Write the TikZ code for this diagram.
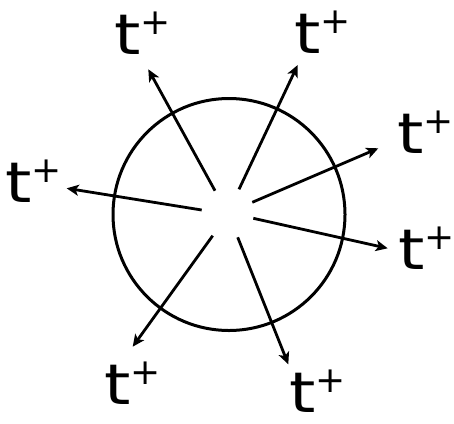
\documentclass[tikz,border=0pt]{standalone}
\usepackage{fontspec}
\setmainfont{DejaVu Sans}
\newfontfamily\widefont[FakeStretch=1.2]{DejaVu Sans}
\usetikzlibrary{arrows.meta}
\newcommand{\tplus}{{\widefont\fontsize{56}{56}\selectfont t}\raisebox{20pt}{\fontsize{36}{36}\selectfont +}}
\begin{document}
\begin{tikzpicture}[x=1pt,y=-1pt,
  arr/.style={line width=2.8pt,-{Stealth[length=12pt,width=11pt,inset=3pt]}},
  lbl/.style={inner sep=0pt,anchor=base west}]
\useasboundingbox (0,0) rectangle (454,423);
\node[draw,circle,line width=3pt,minimum size=232pt,inner sep=0pt] (ring) at (229,214.5) {};
\coordinate (s1) at (215,190.7);   \coordinate (e1) at (148.3,69.3);
\coordinate (s2) at (239,189.3);   \coordinate (e2) at (297.7,65);
\coordinate (s3) at (252.3,202.3); \coordinate (e3) at (378.3,148.3);
\coordinate (s4) at (253.3,218.3); \coordinate (e4) at (387.7,248.3);
\coordinate (s5) at (201.7,210);   \coordinate (e5) at (66.7,188.3);
\coordinate (s6) at (212.7,235.7); \coordinate (e6) at (132.7,346.7);
\coordinate (s7) at (237.7,237.3); \coordinate (e7) at (288.3,364.3);
\foreach \i in {1,...,7} \draw[arr] (s\i) -- (e\i);
\node[lbl] (l1) at (114,54) {\tplus};
\node[lbl] (l2) at (294,53) {\tplus};
\node[lbl] (l3) at (397,153) {\tplus};
\node[lbl] (l4) at (398,269) {\tplus};
\node[lbl] (l5) at (5,202) {\tplus};
\node[lbl] (l6) at (104,404) {\tplus};
\node[lbl] (l7) at (289,412) {\tplus};
\end{tikzpicture}
\end{document}
